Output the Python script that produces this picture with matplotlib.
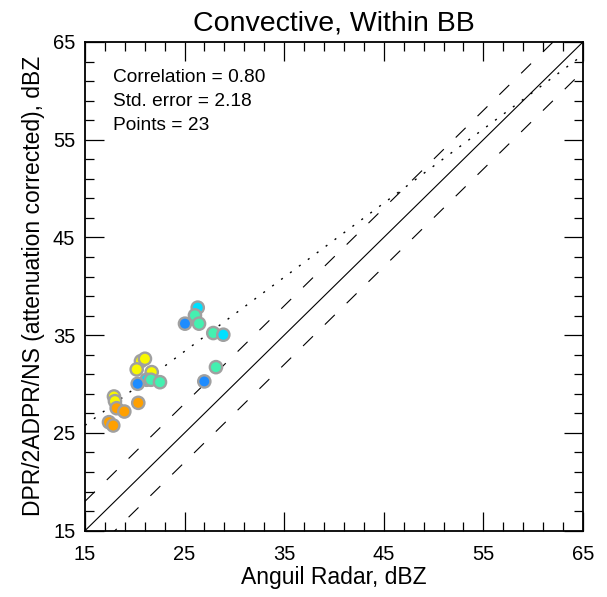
import matplotlib
matplotlib.use('Agg')
import matplotlib.pyplot as plt
from matplotlib.ticker import MultipleLocator

plt.rcParams['font.family'] = ['Liberation Sans', 'DejaVu Sans']
plt.rcParams['lines.scale_dashes'] = False

# gauge-radar matchup points
anguil_dbz = [26.32, 26.04, 25.04, 26.45, 27.88, 28.89, 28.15, 26.98,
              20.62, 21.02, 20.19, 21.70, 21.19, 21.63, 22.53, 20.29,
              17.91, 18.01, 18.18, 18.95, 20.35, 17.41, 17.84]
dpr_dbz = [37.82, 37.03, 36.18, 36.18, 35.22, 35.05, 31.73, 30.27,
           32.35, 32.59, 31.50, 31.22, 30.44, 30.44, 30.19, 30.03,
           28.73, 28.25, 27.53, 27.19, 28.08, 26.10, 25.76]
point_colors = ['#00e0ff', '#44f0b0', '#1e8cff', '#44f0b0', '#44f0b0', '#00e0ff', '#44f0b0', '#1e8cff',
                '#f8f800', '#f8f800', '#f8f800', '#f8f800', '#00e0ff', '#44f0b0', '#44f0b0', '#1e8cff',
                '#f8f800', '#f8f800', '#ffa000', '#ffa000', '#ffa000', '#ffa000', '#ffa000']

# fit line and stats printed on the plot
fit_slope = 0.758
fit_intercept = 14.4
stats_lines = ['Correlation = 0.80', 'Std. error = 2.18', 'Points = 23']
major_ticks = [15, 25, 35, 45, 55, 65]
offset = 3.0
lo, hi = 15, 65

fig = plt.figure(figsize=(6.07, 5.97), dpi=100)
ax = fig.add_axes([0.1400, 0.1111, 0.8204, 0.8186])

# a. reference lines
ref = [lo, hi]
ax.plot(ref, ref, color='black', lw=0.8)
ax.plot(ref, [v + offset for v in ref], color='black', lw=0.8, ls=(0, (10, 12)))
ax.plot(ref, [v - offset for v in ref], color='black', lw=0.8, ls=(0, (10, 12)))
ax.plot(ref, [fit_intercept + fit_slope * v for v in ref], color='black', lw=1.0, ls=(0, (1.5, 6.5)))

# b. points
ax.scatter(anguil_dbz, dpr_dbz, s=78, c=point_colors, edgecolors='#a0a0a0', linewidths=1.7, zorder=3)

# c. axes
ax.set_xlim(lo, hi)
ax.set_ylim(lo, hi)
ax.set_xticks(major_ticks)
ax.set_yticks(major_ticks)
ax.xaxis.set_minor_locator(MultipleLocator(2, offset=1))
ax.yaxis.set_minor_locator(MultipleLocator(2, offset=1))
ax.tick_params(which='both', direction='in', top=True, right=True, width=0.9, labelsize=14.5)
ax.tick_params(which='major', length=13.5)
ax.tick_params(which='minor', length=6.8)
ax.tick_params(axis='x', pad=10)
ax.tick_params(axis='y', pad=7)
for sp in ax.spines.values():
    sp.set_linewidth(1.3)

ax.set_xlabel('Anguil Radar, dBZ', fontsize=16.5, labelpad=2)
ax.set_ylabel('DPR/2ADPR/NS (attenuation corrected), dBZ', fontsize=16.5, labelpad=6)
ax.set_title('Convective, Within BB', fontsize=20.5, pad=8)

# d. stats text
for i, txt in enumerate(stats_lines):
    ax.text(0.057, 0.919 - i * 0.0495, txt, transform=ax.transAxes, fontsize=13.8, va='baseline')

fig.savefig('out.png', dpi=100)
